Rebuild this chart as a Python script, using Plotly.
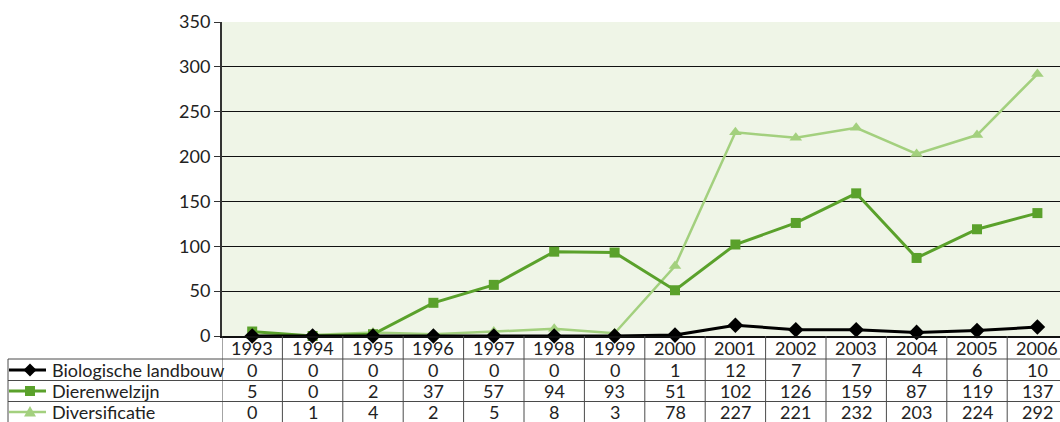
import plotly.graph_objects as go

years = [1993, 1994, 1995, 1996, 1997, 1998, 1999, 2000, 2001, 2002, 2003, 2004, 2005, 2006]
biologische = [0, 0, 0, 0, 0, 0, 0, 1, 12, 7, 7, 4, 6, 10]
dierenwelzijn = [5, 0, 2, 37, 57, 94, 93, 51, 102, 126, 159, 87, 119, 137]
diversificatie = [0, 1, 4, 2, 5, 8, 3, 78, 227, 221, 232, 203, 224, 292]
series_names = ["Biologische landbouw", "Dierenwelzijn", "Diversificatie"]
y_ticks = [0, 50, 100, 150, 200, 250, 300, 350]

SCR_W, SCR_H = 1060, 422
PL, PT, PB = 222, 22, 336          # plot area in screen pixels (right edge = 1060)
W, H = SCR_W, SCR_H
L, R, T, B = PL, 0, PT, H - PB
COL = 60.4
PW = SCR_W - PL
PH = PB - PT
x0 = years[0] - 0.5
x1 = x0 + PW / COL
YMAX = 350


def px2paper(px):
    return (px - PL) / PW


def py2paper(py):
    return (PB - py) / PH


colors = ["#000000", "#5aa12b", "#a3d07e"]
symbols = ["diamond", "square", "triangle-up"]
msizes = [12, 10, 11]
lwidths = [3, 3, 2.5]
data = [biologische, dierenwelzijn, diversificatie]
key_paths = [
    "M 0,6.5 L 6.5,0 L 0,-6.5 L -6.5,0 Z",
    "M -5,-5 L 5,-5 L 5,5 L -5,5 Z",
    "M -6,-4.5 L 6,-4.5 L 0,6 Z",
]

FONT = "Lato"
FS = 18
TXT = "#222222"
fig = go.Figure()

for i in [2, 1, 0]:
    fig.add_trace(go.Scatter(
        x=years, y=data[i], mode="lines+markers", name=series_names[i],
        line=dict(color=colors[i], width=lwidths[i]),
        marker=dict(symbol=symbols[i], size=msizes[i], color=colors[i]),
        cliponaxis=False, showlegend=False,
    ))

row_lines = [359, 380.5, 401.5]
row_centers = [348, 370, 391, 412]
key_x0, key_x1, key_mx, text_x = 9, 46, 30, 50
shapes = []
line_col = "#4a4a4a"

for ry in row_lines:
    shapes.append(dict(type="line", xref="paper", yref="paper",
                       x0=px2paper(key_x0 - 1), x1=1, y0=py2paper(ry), y1=py2paper(ry),
                       line=dict(color=line_col, width=1)))
shapes.append(dict(type="line", xref="paper", yref="paper",
                   x0=px2paper(key_x0 - 1), x1=px2paper(key_x0 - 1),
                   y0=py2paper(row_lines[0]), y1=py2paper(SCR_H + 2),
                   line=dict(color=line_col, width=1)))
for k in range(len(years)):
    xb = years[k] - 0.5
    shapes.append(dict(type="line", xref="x", yref="paper",
                       x0=xb, x1=xb, y0=0, y1=py2paper(SCR_H + 2),
                       line=dict(color=line_col, width=1)))

annotations = []
for yr in years:
    annotations.append(dict(x=yr, y=py2paper(row_centers[0]), xref="x", yref="paper",
                            text=str(yr), showarrow=False,
                            font=dict(family=FONT, size=FS, color=TXT),
                            xanchor="center", yanchor="middle"))
for i in range(3):
    cy = row_centers[i + 1]
    annotations.append(dict(x=px2paper(text_x), y=py2paper(cy), xref="paper", yref="paper",
                            text=series_names[i], showarrow=False,
                            font=dict(family=FONT, size=FS, color=TXT),
                            xanchor="left", yanchor="middle"))
    shapes.append(dict(type="line", xref="paper", yref="paper",
                       x0=px2paper(key_x0), x1=px2paper(key_x1), y0=py2paper(cy), y1=py2paper(cy),
                       line=dict(color=colors[i], width=lwidths[i])))
    shapes.append(dict(type="path", xref="paper", yref="paper",
                       xsizemode="pixel", ysizemode="pixel",
                       xanchor=px2paper(key_mx), yanchor=py2paper(cy),
                       path=key_paths[i], fillcolor=colors[i],
                       line=dict(color=colors[i], width=0)))
    for yr, v in zip(years, data[i]):
        annotations.append(dict(x=yr, y=py2paper(cy), xref="x", yref="paper",
                                text=str(v), showarrow=False,
                                font=dict(family=FONT, size=FS, color=TXT),
                                xanchor="center", yanchor="middle"))

fig.update_layout(
    width=W, height=H,
    margin=dict(l=L, r=R, t=T, b=B, pad=0),
    paper_bgcolor="white",
    plot_bgcolor="#eff5e7",
    showlegend=False,
    shapes=shapes,
    annotations=annotations,
    font=dict(family=FONT, size=FS, color=TXT),
)
fig.update_xaxes(range=[x0, x1], showticklabels=False, showgrid=False, zeroline=False,
                 showline=True, linecolor="#111", linewidth=2, ticks="", fixedrange=True)
fig.update_yaxes(range=[0, YMAX], tickvals=y_ticks, showgrid=True, gridcolor="#111",
                 gridwidth=1, zeroline=False, showline=True, linecolor="#333", linewidth=2,
                 ticks="outside", ticklen=6, tickcolor="#333", tickwidth=1,
                 tickfont=dict(family=FONT, size=FS, color=TXT), fixedrange=True)

fig.write_html(
    "out.html",
    config={"displayModeBar": False},
    post_script=(
        "document.documentElement.style.margin='0';"
        "document.documentElement.style.overflow='hidden';"
        "document.body.style.margin='0';"
        "document.body.style.overflow='hidden';"
    ),
)
